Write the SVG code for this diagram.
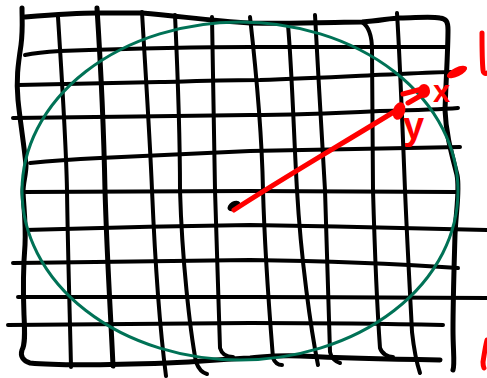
<svg xmlns="http://www.w3.org/2000/svg" width="487" height="378" viewBox="0 0 487 378">
<style>
.g{fill:none;stroke:#000;stroke-width:4;stroke-linecap:round;stroke-linejoin:round}
.b{stroke-width:5}
.r{fill:none;stroke:#ff0000;stroke-width:5;stroke-linecap:round;stroke-linejoin:round}
.rf{fill:#ff0000;stroke:none}
.lbl{font-family:"Liberation Sans",Arial,sans-serif;font-weight:bold;fill:#ff0000}
</style>
<rect width="487" height="378" fill="#fff"/>
<g id="grid">
<!-- verticals -->
<path class="g" d="M58,17 C62,80 66,140 67,190 C68,260 70,320 71,367"/>
<path class="g b" d="M97,8 C101,70 104,140 105,190 C107,260 111,320 113,366"/>
<path class="g" d="M142,12 C146,80 150,140 152,190 C155,260 160,330 166,376"/>
<path class="g" d="M175,15 C178,80 180,140 180,190 C182,260 190,330 196,362 C199,370 203,373 207,374"/>
<path class="g" d="M212,17 C213,80 214,140 215,190 C217,260 219,320 220,348 C222,355 228,357 233,357"/>
<path class="g" d="M250,17 C256,70 262,140 263,190 C265,260 270,320 273,358 C275,363 279,365 282,365"/>
<path class="g" d="M288,25 C292,70 294,140 297,190 C301,260 311,330 318,365"/>
<path class="g" d="M315,15 C318,70 322,140 325,190 C327,260 329,320 330,352 C331,358 336,362 340,363"/>
<path class="g" d="M362,22 C368,26 372,35 372,50 C372,110 373,150 373,190 C375,260 378,320 380,348 C382,354 388,357 393,357"/>
<path class="g" d="M397,13 C400,60 403,140 405,190 C408,260 411,310 412,332 C414,350 417,364 420,373"/>
<!-- borders -->
<path class="g b" d="M22,8 C22,20 23,30 21,45 C18,65 16,80 18,100 C20,120 24,145 26,165 C26,175 23,182 23,192 C24,210 26,225 25,245 C23,270 23,290 24,315 C25,335 25,345 22,350 C20,356 23,361 30,363 C60,366 110,365 167,363 C200,362 225,359 250,358 C265,357 273,355 300,356 C340,358 380,359 440,360"/>
<path class="g b" d="M25,17 C50,15 75,13 97,13 C115,13 130,13 142,13 C180,16 210,21 250,23 C300,24 340,22 362,22 C380,21 390,18 400,18 C415,18 430,16 440,18 C446,19 448,21 448,30 C448,50 446,80 445,110 C446,135 452,155 457,175 C460,190 456,210 455,235 C454,270 453,300 453,330 C453,350 455,365 453,370"/>
<!-- horizontals -->
<path class="g" d="M25,55 C35,53 45,52 60,51 C120,49 200,47 250,47 C320,47 400,47 447,47"/>
<path class="g" d="M18,85 C50,84 100,83 160,82 C200,81 230,80 260,80 C320,78 373,75 400,74 C420,73 440,72 452,72"/>
<path class="g" d="M13,118 C80,117 180,116 250,115 C300,115 340,113 380,111 C420,110 445,109 458,108"/>
<path class="g" d="M30,163 C60,160 80,159 100,158 C170,155 220,152 250,151 C330,149 400,148 460,147"/>
<path class="g" d="M23,192 C120,191 200,191 250,191 C330,191 400,192 457,192"/>
<path class="g" d="M25,230 C90,228 180,226 250,225 C330,226 400,228 487,230"/>
<path class="g" d="M13,263 C100,262 190,261 250,260 C330,261 400,264 458,268"/>
<path class="g" d="M18,297 C100,297 190,297 250,297 C330,297 400,298 487,298"/>
<path class="g" d="M8,325 C100,324 190,323 250,323 C330,323 400,324 443,325"/>
</g>
<g id="circle">
<ellipse cx="240" cy="191" rx="218" ry="169" fill="none" stroke="#007256" stroke-width="3"/>
</g>
<g id="origin">
<ellipse cx="234" cy="206" rx="7" ry="4.5" transform="rotate(-30 234 206)" fill="#000"/>
</g>
<g id="connectors">
<path class="r" d="M234,210 C280,180 340,145 397,110"/>
<ellipse class="rf" cx="399" cy="111" rx="6" ry="9" transform="rotate(20 399 111)"/>
<path class="r" d="M403,94 L422,89" stroke-width="6"/>
<path class="r" d="M408,103 L427,92" stroke-width="6"/>
<ellipse class="rf" cx="424" cy="91" rx="6" ry="7"/>
</g>
<g id="marks">
<ellipse class="rf" cx="457" cy="72" rx="11" ry="4.5" transform="rotate(-25 457 72)"/>
<path class="r" d="M482,33 C482,45 482,60 483,70 C483,73 485,74 487,73" stroke-width="4"/>
<path class="r" d="M487,340 C485,348 484,356 483,362 C483,366 484,368 484,368" stroke-width="3"/>
</g>
<g id="labels">
<text class="lbl" x="433" y="102" font-size="31">x</text>
<text class="lbl" x="403" y="139" font-size="38">y</text>
</g>
</svg>
